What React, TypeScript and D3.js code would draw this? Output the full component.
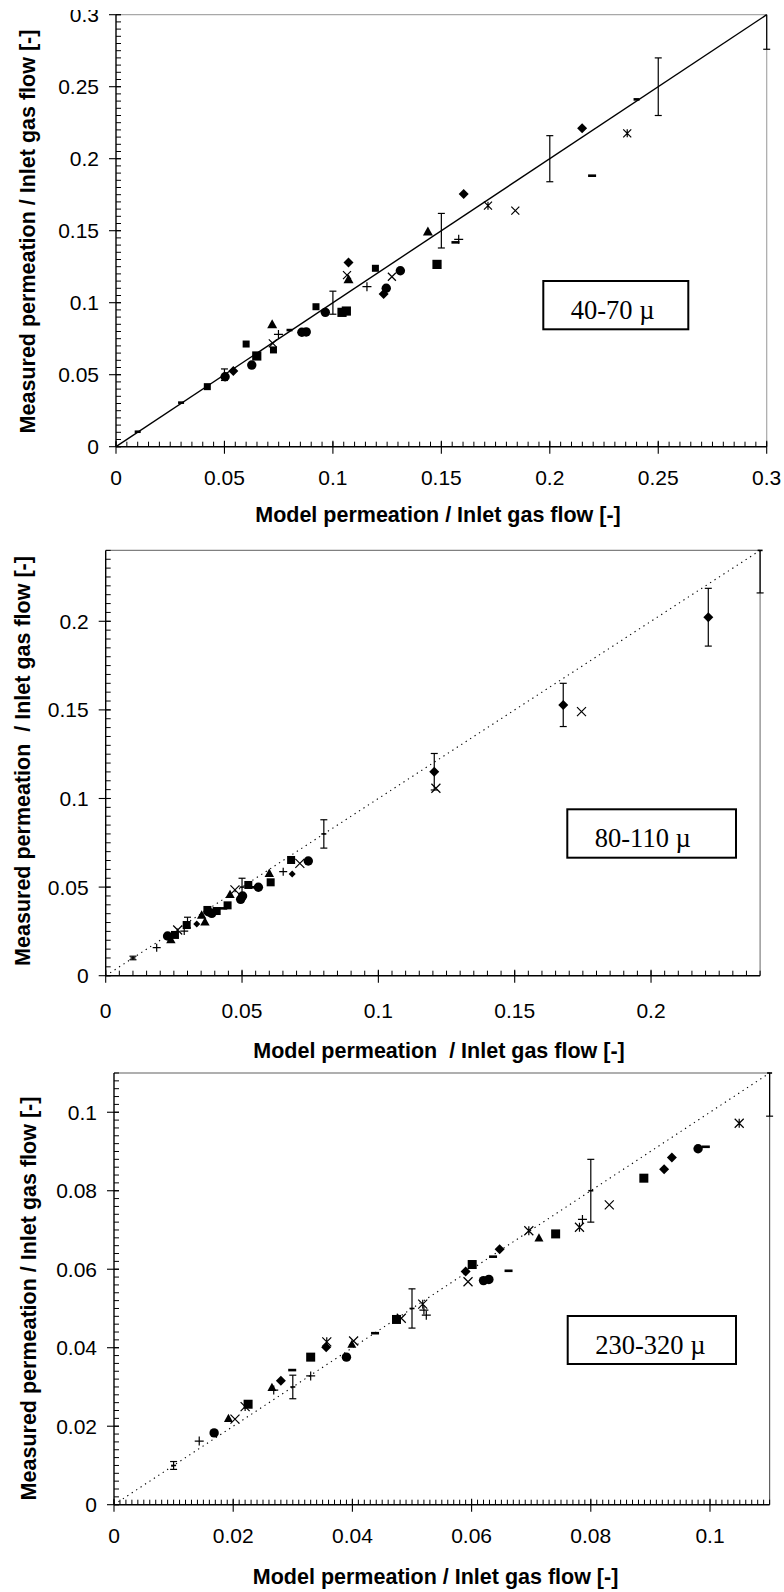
import React from "react";
import * as d3 from "d3";

type Pt = [number, number];
type Shape = "diamond" | "square" | "triangle" | "cross" | "star" | "circle" | "plus" | "dash";

// ---------------- Panel 1 : 40-70 µ ----------------
const p1Diamond: Pt[] = [[0.0541, 0.0526], [0.1072, 0.128], [0.1234, 0.106], [0.1603, 0.1755], [0.2149, 0.2211]];
const p1Square: Pt[] = [[0.0421, 0.0417], [0.06, 0.0713], [0.0726, 0.0672], [0.0922, 0.0972], [0.1196, 0.1239]];
const p1SquareLarge: Pt[] = [[0.0649, 0.063], [0.1042, 0.0933], [0.1062, 0.0942], [0.148, 0.1266]];
const p1Triangle: Pt[] = [[0.072, 0.085], [0.1072, 0.1162], [0.1438, 0.1495]];
const p1Cross: Pt[] = [[0.0723, 0.0718], [0.1065, 0.1192], [0.1272, 0.118], [0.1841, 0.1639]];
const p1Star: Pt[] = [[0.1715, 0.1674], [0.2357, 0.2176]];
const p1Circle: Pt[] = [[0.0503, 0.0486], [0.0626, 0.0567], [0.0857, 0.0795], [0.0877, 0.0797], [0.0965, 0.0933], [0.1246, 0.11], [0.1311, 0.1222]];
const p1Plus: Pt[] = [[0.0749, 0.078], [0.1157, 0.1111], [0.158, 0.144]];
const p1Dash: Pt[] = [[0.1565, 0.1419], [0.2195, 0.1882]];
const p1SmallDash: Pt[] = [[0.01, 0.0104], [0.03, 0.0306], [0.08, 0.081], [0.24, 0.2412]];
const p1ErrX = [0.05, 0.1, 0.15, 0.2, 0.25, 0.3];
const p1ErrPct = 0.08;

// ---------------- Panel 2 : 80-110 µ ----------------
const p2Diamond: Pt[] = [[0.1205, 0.1151], [0.1678, 0.1528], [0.221, 0.2023]];
const p2DiamondErr = [0.0103, 0.0122, 0.0163];
const p2DiamondSmall: Pt[] = [[0.0334, 0.0292], [0.0684, 0.0574]];
const p2Square: Pt[] = [[0.0254, 0.023], [0.0297, 0.0286], [0.0373, 0.0371], [0.0407, 0.0365], [0.0447, 0.0397], [0.0523, 0.0512], [0.0605, 0.0527], [0.068, 0.0653]];
const p2Triangle: Pt[] = [[0.0239, 0.0205], [0.0352, 0.0343], [0.0364, 0.0305], [0.0456, 0.0459], [0.06, 0.0578]];
const p2Cross: Pt[] = [[0.0264, 0.0258], [0.0474, 0.0484], [0.0712, 0.0634], [0.1211, 0.1058], [0.1745, 0.149]];
const p2Circle: Pt[] = [[0.0227, 0.0224], [0.0376, 0.0361], [0.0389, 0.0352], [0.0495, 0.0431], [0.0502, 0.045], [0.056, 0.0499], [0.0743, 0.0647]];
const p2Plus: Pt[] = [[0.0187, 0.0158], [0.0288, 0.0252], [0.0651, 0.0587]];
const p2Dash: Pt[] = [[0.0431, 0.038], [0.0541, 0.0499]];
const p2ErrX = [0.01, 0.03, 0.05, 0.08, 0.24];
const p2ErrPct = 0.1;

// ---------------- Panel 3 : 230-320 µ ----------------
const p3Diamond: Pt[] = [[0.028, 0.0316], [0.0356, 0.0401], [0.059, 0.0594], [0.0647, 0.0651], [0.0923, 0.0855], [0.0936, 0.0885]];
const p3Square: Pt[] = [[0.0225, 0.0256], [0.033, 0.0376], [0.0474, 0.0472], [0.0601, 0.0612], [0.0741, 0.069], [0.0889, 0.0832]];
const p3Triangle: Pt[] = [[0.0192, 0.022], [0.0265, 0.0299], [0.0399, 0.0409], [0.0713, 0.068]];
const p3Cross: Pt[] = [[0.0203, 0.0218], [0.0402, 0.0417], [0.0482, 0.0475], [0.0594, 0.0568], [0.0831, 0.0764]];
const p3Star: Pt[] = [[0.022, 0.025], [0.0357, 0.0415], [0.0518, 0.0511], [0.0696, 0.0698], [0.0781, 0.0707], [0.1049, 0.0972]];
const p3Circle: Pt[] = [[0.0168, 0.0183], [0.039, 0.0376], [0.062, 0.0571], [0.0629, 0.0574], [0.098, 0.0907]];
const p3Plus: Pt[] = [[0.0143, 0.0162], [0.0268, 0.0292], [0.033, 0.0328], [0.0524, 0.0483], [0.052, 0.0496], [0.0786, 0.0727]];
const p3Dash: Pt[] = [[0.0299, 0.0343], [0.0438, 0.0437], [0.0636, 0.0632], [0.0662, 0.0596], [0.0993, 0.0912]];
const p3ErrX = [0.01, 0.03, 0.05, 0.08, 0.11];
const p3ErrPct = 0.1;

// ---------------- Texts ----------------
const panelLabels = ["40-70 \u00B5", "80-110 \u00B5", "230-320 \u00B5"];
const xTitles = ["Model permeation / Inlet gas flow [-]", "Model permeation  / Inlet gas flow [-]", "Model permeation / Inlet gas flow [-]"];
const yTitles = ["Measured permeation / Inlet gas flow [-]", "Measured permeation  / Inlet gas flow [-]", "Measured permeation / Inlet gas flow [-]"];

const SANS = "'Liberation Sans', Arial, Helvetica, sans-serif";
const SERIF = "'Liberation Serif', 'Times New Roman', serif";

interface Series { pts: Pt[]; shape: Shape; size: number; err?: number[] }

function Marker({ shape, cx, cy, s }: { shape: Shape; cx: number; cy: number; s: number }) {
  const sw = 1.2;
  switch (shape) {
    case "diamond":
      return <polygon points={`${cx},${cy - s} ${cx + s},${cy} ${cx},${cy + s} ${cx - s},${cy}`} fill="#000" />;
    case "square":
      return <rect x={cx - s} y={cy - s} width={2 * s} height={2 * s} fill="#000" />;
    case "triangle":
      return <polygon points={`${cx},${cy - s} ${cx + s},${cy + s * 0.8} ${cx - s},${cy + s * 0.8}`} fill="#000" />;
    case "circle":
      return <circle cx={cx} cy={cy} r={s} fill="#000" />;
    case "cross":
      return <path d={`M${cx - s},${cy - s}L${cx + s},${cy + s}M${cx - s},${cy + s}L${cx + s},${cy - s}`} stroke="#000" strokeWidth={sw} fill="none" />;
    case "star":
      return <path d={`M${cx - s},${cy - s}L${cx + s},${cy + s}M${cx - s},${cy + s}L${cx + s},${cy - s}M${cx},${cy - s}L${cx},${cy + s}`} stroke="#000" strokeWidth={sw} fill="none" />;
    case "plus":
      return <path d={`M${cx - s},${cy}L${cx + s},${cy}M${cx},${cy - s}L${cx},${cy + s}`} stroke="#000" strokeWidth={sw} fill="none" />;
    case "dash":
      return <rect x={cx - s} y={cy - 1.3} width={2 * s} height={2.6} fill="#000" />;
  }
  return null;
}

interface PanelProps {
  left: number; right: number; top: number; bottom: number;
  max: number; major: number; minorX: number; minorY: number;
  dotted: boolean; frame: string;
  label: string; box: [number, number, number, number];
  xTitle: string; yTitle: string;
  xTitleX: number; xTitleY: number; yTitleX: number; yTitleY: number;
  xLabelY: number;
  series: Series[];
  errX: number[]; errPct: number; errMarker: boolean;
}

function range(max: number, step: number) {
  const n = Math.floor(max / step + 1e-9);
  return d3.range(n + 1).map((i) => +(i * step).toFixed(6));
}

function Panel(p: PanelProps) {
  const x = d3.scaleLinear().domain([0, p.max]).range([p.left, p.right]);
  const y = d3.scaleLinear().domain([0, p.max]).range([p.bottom, p.top]);
  const majors = range(p.max, p.major);
  const minorsX = range(p.max, p.minorX);
  const minorsY = range(p.max, p.minorY);
  const fmt = (v: number) => String(+v.toFixed(4));
  const cap = 3.5;
  const errBar = (cx: number, lo: number, hi: number, key: string) => {
    const yl = y(Math.max(0, lo));
    const yh = y(Math.min(p.max, hi));
    const px = x(cx);
    return (
      <g key={key}>
        <line x1={px} x2={px} y1={yl} y2={yh} stroke="#000" strokeWidth={1.2} />
        <line x1={px - cap} x2={px + cap} y1={yl} y2={yl} stroke="#000" strokeWidth={1.2} />
        {hi <= p.max + 1e-9 && <line x1={px - cap} x2={px + cap} y1={yh} y2={yh} stroke="#000" strokeWidth={1.2} />}
      </g>
    );
  };
  const line = d3.line<Pt>().x((d) => x(d[0])).y((d) => y(d[1]));
  return (
    <g>
      {/* frame */}
      <line x1={p.left} x2={p.right} y1={p.top} y2={p.top} stroke={p.frame} strokeWidth={1.2} />
      <line x1={p.right} x2={p.right} y1={p.top} y2={p.bottom} stroke={p.frame} strokeWidth={1.2} />
      {/* diagonal */}
      <path d={line([[0, 0], [p.max, p.max]]) || ""} stroke="#000" strokeWidth={p.dotted ? 1.1 : 1.4} fill="none"
        strokeDasharray={p.dotted ? "1.3 4" : undefined} />
      {/* minor ticks */}
      {minorsX.map((v) => (
        <line key={"mx" + v} x1={x(v)} x2={x(v)} y1={p.bottom} y2={p.bottom - 5} stroke="#000" strokeWidth={1} />
      ))}
      {minorsY.map((v) => (
        <line key={"my" + v} x1={p.left} x2={p.left + 5} y1={y(v)} y2={y(v)} stroke="#000" strokeWidth={1} />
      ))}
      {/* major ticks */}
      {majors.map((v) => (
        <line key={"Mx" + v} x1={x(v)} x2={x(v)} y1={p.bottom - 6} y2={p.bottom + 7} stroke="#000" strokeWidth={1.1} />
      ))}
      {majors.map((v) => (
        <line key={"My" + v} x1={p.left - 7} x2={p.left + 5} y1={y(v)} y2={y(v)} stroke="#000" strokeWidth={1.1} />
      ))}
      {/* axes */}
      <line x1={p.left} x2={p.right} y1={p.bottom} y2={p.bottom} stroke="#000" strokeWidth={1.4} />
      <line x1={p.left} x2={p.left} y1={p.top} y2={p.bottom} stroke="#000" strokeWidth={1.4} />
      {/* tick labels */}
      {majors.map((v) => (
        <text key={"lx" + v} x={x(v)} y={p.xLabelY} textAnchor="middle" fontFamily={SANS} fontSize={21} fill="#000">{fmt(v)}</text>
      ))}
      {majors.map((v) => (
        <text key={"ly" + v} x={p.left - 17} y={y(v)} dy="0.355em" textAnchor="end" fontFamily={SANS} fontSize={21} fill="#000">{fmt(v)}</text>
      ))}
      {/* titles */}
      <text x={p.xTitleX} y={p.xTitleY} textAnchor="middle" fontFamily={SANS} fontWeight="bold" fontSize={21.5}
        style={{ whiteSpace: "pre" }} fill="#000">{p.xTitle}</text>
      <text transform={`translate(${p.yTitleX},${p.yTitleY}) rotate(-90)`} textAnchor="middle" fontFamily={SANS}
        fontWeight="bold" fontSize={21.5} style={{ whiteSpace: "pre" }} fill="#000">{p.yTitle}</text>
      {/* error bar series on the diagonal */}
      {p.errX.map((v, i) => errBar(v, v * (1 - p.errPct), v * (1 + p.errPct), "e" + i))}
      {p.errMarker && p.errX.map((v, i) => (
        <rect key={"em" + i} x={x(v) - 2.5} y={y(v) - 0.8} width={5} height={1.6} fill="#000" />
      ))}
      {/* data series */}
      {p.series.map((s, si) => (
        <g key={"s" + si}>
          {s.err && s.pts.map((d, i) => errBar(d[0], d[1] - s.err![i], d[1] + s.err![i], "se" + si + "_" + i))}
          {s.pts.map((d, i) => (
            <Marker key={i} shape={s.shape} cx={x(d[0])} cy={y(d[1])} s={s.size} />
          ))}
        </g>
      ))}
      {/* label box */}
      <rect x={p.box[0]} y={p.box[1]} width={p.box[2]} height={p.box[3]} fill="#fff" stroke="#000" strokeWidth={2} />
      <text x={p.box[0] + 27.5} y={p.box[1] + 38} fontFamily={SERIF} fontSize={26.5} fill="#000">{p.label}</text>
    </g>
  );
}

export default function App() {
  const panels: PanelProps[] = [
    {
      left: 116, right: 766.7, top: 14.7, bottom: 446.7, max: 0.3, major: 0.05, minorX: 0.005, minorY: 0.005,
      dotted: false, frame: "#a8a8a8", label: panelLabels[0], box: [543.3, 281, 145, 48.3],
      xTitle: xTitles[0], yTitle: yTitles[0], xTitleX: 438, xTitleY: 522, yTitleX: 35, yTitleY: 231.5, xLabelY: 485,
      errX: p1ErrX, errPct: p1ErrPct, errMarker: false,
      series: [
        { pts: p1SmallDash, shape: "dash", size: 3 },
        { pts: p1Diamond, shape: "diamond", size: 5 },
        { pts: p1Square, shape: "square", size: 3.5 },
        { pts: p1SquareLarge, shape: "square", size: 4.6 },
        { pts: p1Triangle, shape: "triangle", size: 5 },
        { pts: p1Cross, shape: "cross", size: 4 },
        { pts: p1Star, shape: "star", size: 4 },
        { pts: p1Circle, shape: "circle", size: 4.7 },
        { pts: p1Plus, shape: "plus", size: 4.5 },
        { pts: p1Dash, shape: "dash", size: 4 },
      ],
    },
    {
      left: 105.7, right: 760.1, top: 550.4, bottom: 975.7, max: 0.24, major: 0.05, minorX: 0.005, minorY: 0.005,
      dotted: true, frame: "#808080", label: panelLabels[1], box: [567.3, 809.3, 168.7, 48.4],
      xTitle: xTitles[1], yTitle: yTitles[1], xTitleX: 439, xTitleY: 1058, yTitleX: 29.5, yTitleY: 761, xLabelY: 1018.3,
      errX: p2ErrX, errPct: p2ErrPct, errMarker: true,
      series: [
        { pts: p2Diamond, shape: "diamond", size: 5, err: p2DiamondErr },
        { pts: p2DiamondSmall, shape: "diamond", size: 3.5 },
        { pts: p2Square, shape: "square", size: 4 },
        { pts: p2Triangle, shape: "triangle", size: 4.7 },
        { pts: p2Cross, shape: "cross", size: 4.5 },
        { pts: p2Circle, shape: "circle", size: 4.7 },
        { pts: p2Plus, shape: "plus", size: 4 },
        { pts: p2Dash, shape: "dash", size: 4 },
      ],
    },
    {
      left: 114, right: 769.6, top: 1073, bottom: 1504.7, max: 0.11, major: 0.02, minorX: 0.001, minorY: 0.002,
      dotted: true, frame: "#606060", label: panelLabels[2], box: [567.7, 1316, 168.3, 48],
      xTitle: xTitles[2], yTitle: yTitles[2], xTitleX: 435.6, xTitleY: 1584, yTitleX: 36, yTitleY: 1298.5, xLabelY: 1543.3,
      errX: p3ErrX, errPct: p3ErrPct, errMarker: true,
      series: [
        { pts: p3Diamond, shape: "diamond", size: 5 },
        { pts: p3Square, shape: "square", size: 4.5 },
        { pts: p3Triangle, shape: "triangle", size: 4.5 },
        { pts: p3Cross, shape: "cross", size: 4.5 },
        { pts: p3Star, shape: "star", size: 4.5 },
        { pts: p3Circle, shape: "circle", size: 4.7 },
        { pts: p3Plus, shape: "plus", size: 4.5 },
        { pts: p3Dash, shape: "dash", size: 4 },
      ],
    },
  ];
  return (
    <div style={{ position: "absolute", left: 0, top: 0 }}>
      <svg width={784} height={1592} viewBox="0 0 784 1592" style={{ display: "block", background: "#fff" }}>
        <defs>
          <clipPath id="pageClip">
            <rect x={0} y={10} width={784} height={1582} />
          </clipPath>
        </defs>
        <rect x={0} y={0} width={784} height={1592} fill="#fff" />
        <g clipPath="url(#pageClip)">
          {panels.map((p, i) => (
            <Panel key={i} {...p} />
          ))}
        </g>
      </svg>
    </div>
  );
}
